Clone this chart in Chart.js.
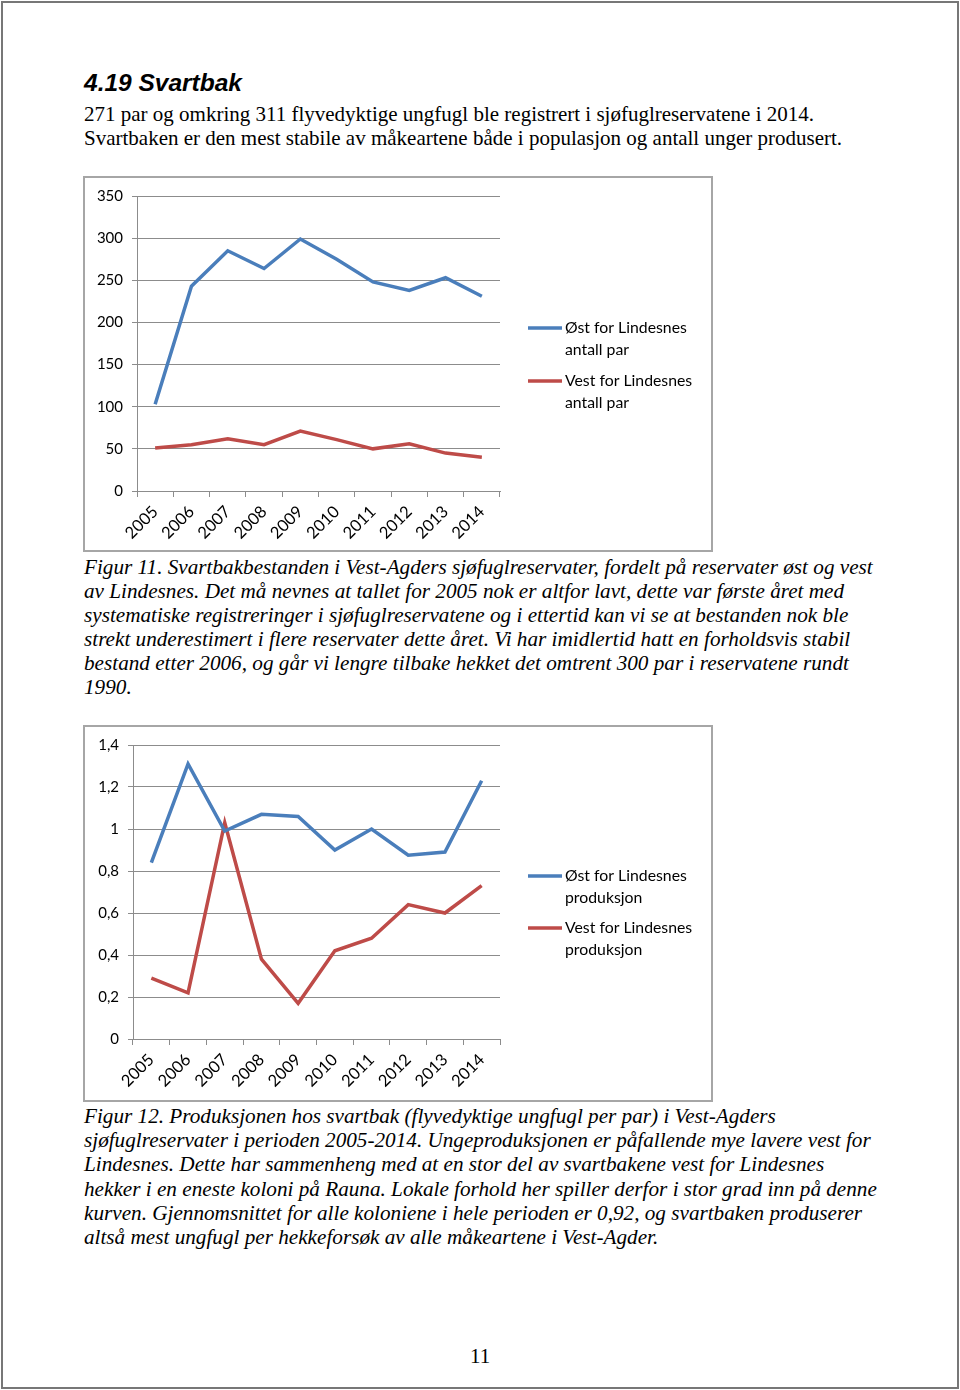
<!DOCTYPE html>
<html>
<head>
<meta charset="utf-8">
<script src="https://cdn.jsdelivr.net/npm/chart.js@4.4.1/dist/chart.umd.min.js"></script>
<style>
  html, body { margin: 0; padding: 0; background: #fff; }
  body { width: 960px; height: 1390px; position: relative; overflow: hidden; }
  .page { position: absolute; left: 1px; top: 1px; width: 958px; height: 1388px;
          border: 2px solid #777; box-sizing: border-box; }
  .ln { position: absolute; left: 84px; white-space: nowrap; line-height: 24px; color: #000;
        font-family: "Liberation Serif", "Times New Roman", serif; font-size: 21px; }
  .cap { font-style: italic; font-size: 21.2px; }
  .h { font-family: "Liberation Sans", Arial, sans-serif; font-weight: bold; font-style: italic;
       font-size: 24.5px; }
  .box { position: absolute; left: 83px; width: 630px; border: 2px solid #a6a6a6;
         box-sizing: border-box; background: #fff; }
  .box canvas { display: block; }
</style>
</head>
<body>
<div class="page"></div>

<div class="ln h" style="top:71px">4.19 Svartbak</div>
<div class="ln" style="top:102px">271 par og omkring 311 flyvedyktige ungfugl ble registrert i sjøfuglreservatene i 2014.</div>
<div class="ln" style="top:126px">Svartbaken er den mest stabile av måkeartene både i populasjon og antall unger produsert.</div>

<div class="box" style="top:176px;height:376px"><canvas id="c1" width="626" height="372"></canvas></div>

<div class="ln cap" style="top:555px">Figur 11. Svartbakbestanden i Vest-Agders sjøfuglreservater, fordelt på reservater øst og vest</div>
<div class="ln cap" style="top:579px">av Lindesnes. Det må nevnes at tallet for 2005 nok er altfor lavt, dette var første året med</div>
<div class="ln cap" style="top:603px">systematiske registreringer i sjøfuglreservatene og i ettertid kan vi se at bestanden nok ble</div>
<div class="ln cap" style="top:627px">strekt underestimert i flere reservater dette året. Vi har imidlertid hatt en forholdsvis stabil</div>
<div class="ln cap" style="top:651px">bestand etter 2006, og går vi lengre tilbake hekket det omtrent 300 par i reservatene rundt</div>
<div class="ln cap" style="top:675px">1990.</div>

<div class="box" style="top:725px;height:377px"><canvas id="c2" width="626" height="373"></canvas></div>

<div class="ln cap" style="top:1104px">Figur 12. Produksjonen hos svartbak (flyvedyktige ungfugl per par) i Vest-Agders</div>
<div class="ln cap" style="top:1128px">sjøfuglreservater i perioden 2005-2014. Ungeproduksjonen er påfallende mye lavere vest for</div>
<div class="ln cap" style="top:1152px">Lindesnes. Dette har sammenheng med at en stor del av svartbakene vest for Lindesnes</div>
<div class="ln cap" style="top:1177px">hekker i en eneste koloni på Rauna. Lokale forhold her spiller derfor i stor grad inn på denne</div>
<div class="ln cap" style="top:1201px">kurven. Gjennomsnittet for alle koloniene i hele perioden er 0,92, og svartbaken produserer</div>
<div class="ln cap" style="top:1225px">altså mest ungfugl per hekkeforsøk av alle måkeartene i Vest-Agder.</div>

<div class="ln" style="top:1344px;left:470px">11</div>

<script>
// data
const years = ['2005', '2006', '2007', '2008', '2009', '2010', '2011', '2012', '2013', '2014'];

const ostPar = [103, 243, 285, 264, 299, 275, 248, 238, 253, 231];
const vestPar = [51, 55, 62, 55, 71, 61, 50, 56, 45, 40];
const parLabels = ['Øst for Lindesnes antall par', 'Vest for Lindesnes antall par'];

const ostProd = [0.84, 1.31, 0.99, 1.07, 1.06, 0.9, 1.0, 0.875, 0.89, 1.23];
const vestProd = [0.29, 0.22, 1.03, 0.38, 0.17, 0.42, 0.48, 0.64, 0.6, 0.73];
const prodLabels = ['Øst for Lindesnes produksjon', 'Vest for Lindesnes produksjon'];

const blue = '#4a7ebb';
const red = '#be4b48';
const gridCol = '#8c8c8c';
const fam = 'Lato, "Open Sans", sans-serif';

// legend to the right, each label wrapped after "Lindesnes"
const sideLegend = {
  id: 'sideLegend',
  afterDraw(chart) {
    const o = chart.options.plugins.sideLegend;
    const ctx = chart.ctx;
    ctx.save();
    ctx.font = '15.8px ' + fam;
    ctx.textBaseline = 'middle';
    ctx.fillStyle = '#000';
    chart.data.datasets.forEach((ds, i) => {
      const y = o.y[i];
      ctx.strokeStyle = ds.borderColor;
      ctx.lineWidth = 3.5;
      ctx.beginPath();
      ctx.moveTo(o.x, y);
      ctx.lineTo(o.x + 34, y);
      ctx.stroke();
      const words = ds.label.split(' ');
      ctx.fillText(words.slice(0, 3).join(' '), o.x + 37, y);
      ctx.fillText(words.slice(3).join(' '), o.x + 37, y + 21.5);
    });
    ctx.restore();
  }
};

function makeChart(id, labels, a, b, yMax, yStep, yWidth, xHeight, padTop, legendY, fmt) {
  return new Chart(document.getElementById(id), {
    type: 'line',
    data: {
      labels: years,
      datasets: [
        { label: labels[0], data: a, borderColor: blue, borderWidth: 3.5, pointRadius: 0, tension: 0 },
        { label: labels[1], data: b, borderColor: red, borderWidth: 3.5, pointRadius: 0, tension: 0 },
      ],
    },
    options: {
      responsive: false,
      animation: false,
      devicePixelRatio: 1,
      layout: { padding: { top: padTop, right: 211, left: 0, bottom: 0 } },
      plugins: {
        legend: { display: false },
        tooltip: { enabled: false },
        sideLegend: { x: 443, y: legendY },
      },
      scales: {
        x: {
          offset: true,
          afterFit(s) { s.height = xHeight; },
          grid: { drawOnChartArea: false, tickLength: 6, color: gridCol, offset: true },
          border: { color: gridCol, width: 1 },
          ticks: { font: { family: fam, size: 16.5 }, color: '#000', maxRotation: 45, minRotation: 45,
                   autoSkip: false, padding: 5 },
        },
        y: {
          min: 0,
          max: yMax,
          afterFit(s) { s.width = yWidth; },
          grid: { color: gridCol, tickLength: 5 },
          border: { color: gridCol, width: 1 },
          ticks: { font: { family: fam, size: 15 }, color: '#000', stepSize: yStep, padding: 9,
                   callback: fmt },
        },
      },
    },
    plugins: [sideLegend],
  });
}

makeChart('c1', parLabels, ostPar, vestPar, 350, 50, 52, 59, 17, [150, 203],
  v => String(v));
makeChart('c2', prodLabels, ostProd, vestProd, 1.4, 0.2, 48, 61, 18, [149, 201],
  v => String(Math.round(v * 10) / 10).replace('.', ','));
</script>
</body>
</html>
